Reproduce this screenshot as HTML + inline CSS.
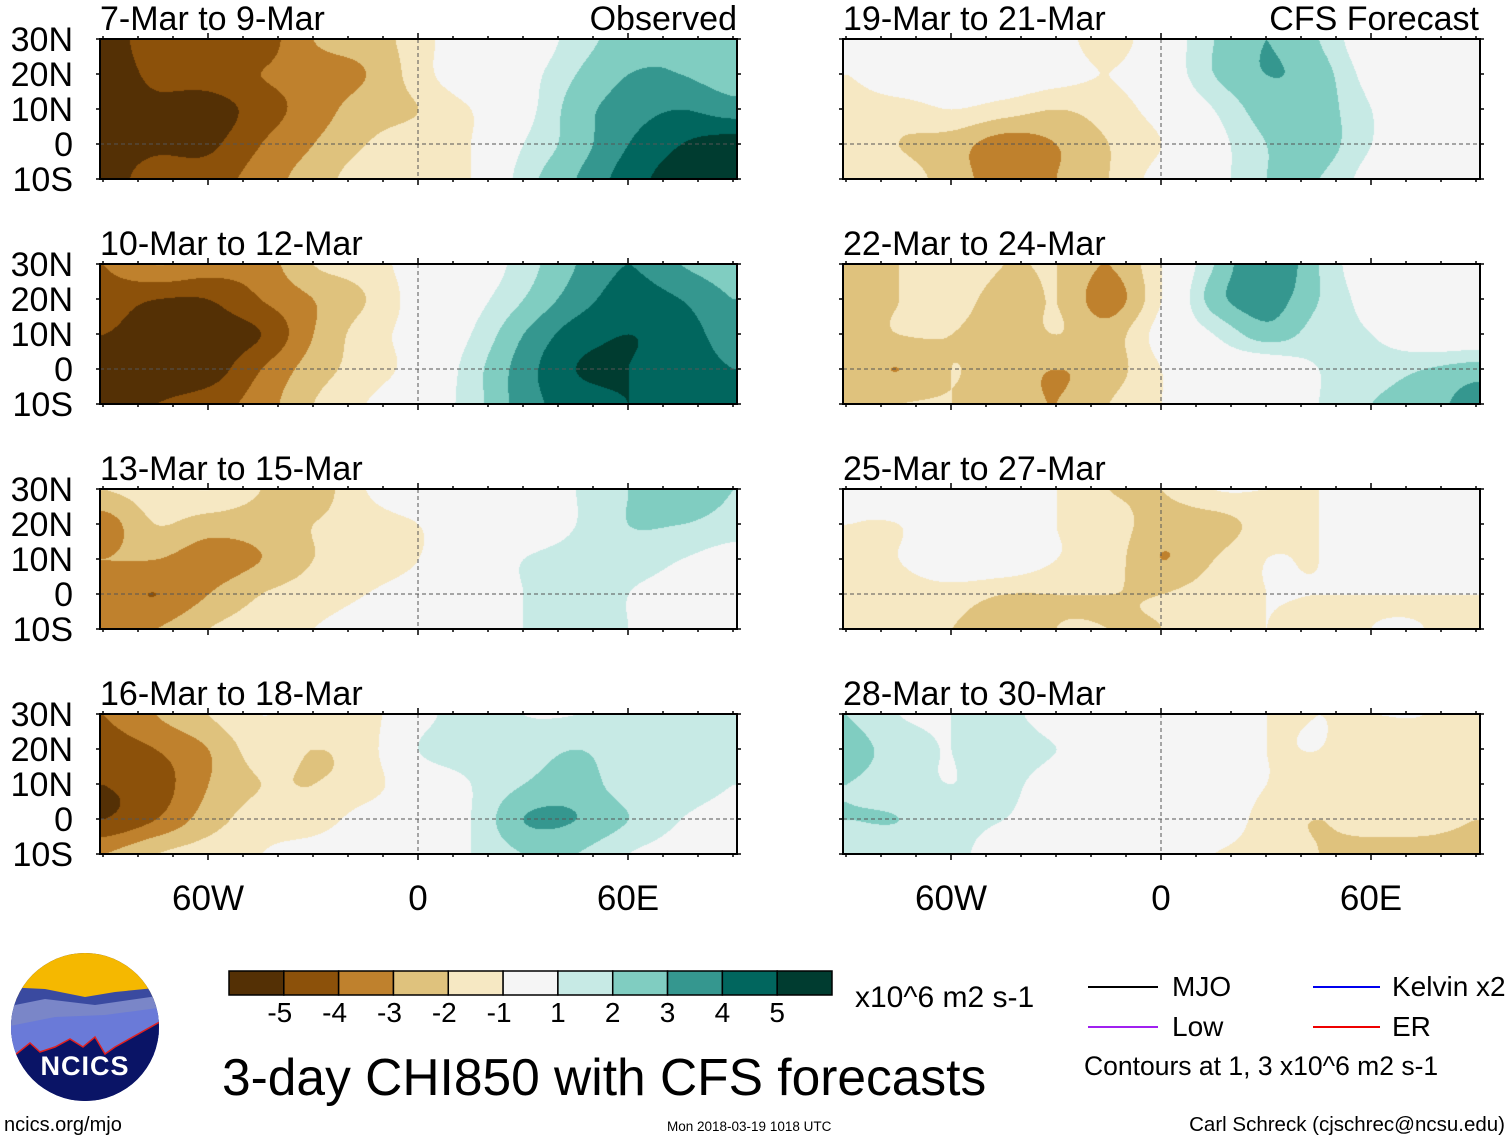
<!DOCTYPE html>
<html><head><meta charset="utf-8"><style>
body{margin:0;background:#fff;width:1510px;height:1142px;overflow:hidden;position:relative;font-family:"Liberation Sans",sans-serif}
.t{position:absolute;white-space:nowrap;color:#000;line-height:1}
canvas{position:absolute}
</style></head><body>
<svg id="frame" width="1510" height="1142" style="position:absolute;left:0;top:0;z-index:2" xmlns="http://www.w3.org/2000/svg"></svg>

<div id="texts"></div>

<div class="t" style="left:855px;top:983px;font-size:30px">x10^6 m2 s-1</div>
<div class="t" style="left:222px;top:1052px;font-size:51.5px">3-day CHI850 with CFS forecasts</div>
<div class="t" style="left:1172px;top:973px;font-size:28px">MJO</div>
<div class="t" style="left:1392px;top:973px;font-size:28px">Kelvin x2</div>
<div class="t" style="left:1172px;top:1013px;font-size:28px">Low</div>
<div class="t" style="left:1392px;top:1013px;font-size:28px">ER</div>
<div class="t" style="left:1084px;top:1053px;font-size:26.5px">Contours at 1, 3 x10^6 m2 s-1</div>
<div class="t" style="left:4px;top:1115px;font-size:20px">ncics.org/mjo</div>
<div class="t" style="left:667px;top:1120px;font-size:13.5px">Mon 2018-03-19 1018 UTC</div>
<div class="t" style="right:5px;top:1115px;font-size:20.5px">Carl Schreck (cjschrec@ncsu.edu)</div>

<svg width="160" height="160" style="position:absolute;left:5px;top:947px" viewBox="0 0 160 160">
<defs><clipPath id="cc"><circle cx="80" cy="80" r="74"/></clipPath></defs>
<g clip-path="url(#cc)">
<rect x="0" y="0" width="160" height="160" fill="#0a1466"/>
<rect x="0" y="0" width="160" height="55" fill="#f5b800"/>
<path d="M0 40 L40 42 L80 50 L110 45 L160 40 L160 110 L0 110Z" fill="#3a4aa0"/>
<path d="M0 60 L40 52 L90 58 L160 48 L160 110 L0 110Z" fill="#7a86c8"/>
<path d="M0 80 L50 70 L100 68 L160 60 L160 110 L0 110Z" fill="#6a7ad8"/>
<path d="M10 108 L25 96 L35 105 L50 100 L65 92 L78 100 L90 90 L100 107 L110 100 L160 72 L160 160 L0 160Z" fill="#0a1466" stroke="#e02020" stroke-width="1.5"/>
</g>
<text x="80" y="128" fill="#fff" font-family="Liberation Sans,sans-serif" font-weight="bold" font-size="27" text-anchor="middle" letter-spacing="1">NCICS</text>
</svg>

<script>
// ---- data ----
const lonGrid = [-90,-75,-60,-45,-30,-15,0,15,30,45,60,75,90];
const latGrid = [30,20,10,0,-10];
const latTickLabels = ["30N","20N","10N","0","10S"];
const lonTickLabels = ["60W","0","60E"];
const lonTickValues = [-60,0,60];
const levelLabels = ["-5","-4","-3","-2","-1","1","2","3","4","5"];
const levelValues = [-5,-4,-3,-2,-1,1,2,3,4,5];
const panelTitles = ["7-Mar to 9-Mar","10-Mar to 12-Mar","13-Mar to 15-Mar","16-Mar to 18-Mar","19-Mar to 21-Mar","22-Mar to 24-Mar","25-Mar to 27-Mar","28-Mar to 30-Mar"];
const fieldP1 = [
[-5.5,-4.5,-4.5,-4.5,-3,-2.5,-1.5,0,0,1.5,2.5,3,2.5],
[-5.5,-4.8,-4.5,-4,-3.5,-3,-1.5,0,0.5,2,3,3,2.5],
[-5.5,-5.2,-5.5,-4.5,-3.5,-2.5,-2,-1,0.5,2.5,3.5,4,3.5],
[-5.5,-5.2,-5.2,-4,-3,-2,-1.5,-1,1,2.5,4,5,5.5],
[-5.5,-4.5,-4.5,-3.5,-2.5,-1.5,-1.5,-1,1.5,3,4.5,5.5,5.5]];
const fieldP2 = [
[-4,-3,-3.5,-3.5,-2,-1.5,-0.5,0,1.5,3,4,3,2.5],
[-4.5,-5,-5,-4,-3,-2,-0.5,0.5,2,3.5,4.5,4,3],
[-5,-5.5,-5.5,-5,-3,-1.5,-0.5,1,3,4.5,5,4.5,3.5],
[-5.5,-5.5,-5.5,-4,-2.5,-1.5,-0.5,1.5,3.5,5,5,4.5,4],
[-5,-5,-4.5,-3.5,-2,-1,0,1.5,3.5,4.5,5,4.5,4]];
const fieldP3 = [
[-2,-1.5,-1,-2,-2.5,-1,0,0,0,1,2,3,2],
[-3.5,-2,-2.5,-2.5,-2,-1.5,-1,0,0,1,2,2,1.5],
[-3,-3,-3.5,-3,-2,-1.5,-1,0,1,1.5,1.5,1,0.5],
[-3.5,-4,-3,-2,-1.5,-1,-0.5,0,1,2,1,0.5,0],
[-3,-3,-2,-1.5,-1,-0.5,0,0,1,1.5,1,0,0]];
const fieldP4 = [
[-4,-3,-2,-1,-1.5,-1.5,0.5,1.5,1,1,1.5,1.5,1],
[-4.5,-4,-3,-1.5,-2,-1.5,1,1.5,1.5,2,1.5,1.5,1],
[-5,-4.5,-3,-2,-2,-1.5,0,1,2,2.5,1.5,1.5,1],
[-5,-4,-2.5,-1.5,-1.5,-0.5,0,1,3,3,2,1,0.5],
[-3,-2,-1.5,-1,-0.5,0,0,1,2,2,1,0.5,0]];
const fieldP5 = [
[0,0,0,0,-0.5,-1.5,0,2,3,2,0,0,0],
[-1,0,0,0,-0.5,-1,0,2,3,2.5,0.5,0,0],
[-1.5,-1.5,-1,-1.5,-2,-1.5,-0.5,1,2.5,2.5,1,0,0],
[-1.5,-2,-2.5,-3.5,-3,-2,-1,0.5,2,2.5,1,0,0],
[-1.5,-1.5,-2.5,-3.5,-3,-2,-0.5,0.5,2,2,0.5,0,0]];
const fieldP6 = [
[-2.5,-2,-1,-2,-2,-3,-1,2,4,2,0,0,0],
[-2.5,-2,-1.5,-2.5,-2,-3.5,-1,2.5,3.5,2,0.5,0,0],
[-2.5,-2,-2,-2.5,-2,-2.5,-0.5,1,2.5,1.5,1,0,0],
[-2.5,-3,-2,-2.5,-3,-2.5,-1,0,0,1,1.5,2,2.5],
[-2.5,-2,-2,-2.5,-3,-2,-1,0,0,1,2,2.5,3.5]];
const fieldP7 = [
[-1,0,0,0,-1,-2,-2,-1,-1,-1,-0.5,0,0],
[-1,-1,0,0,-1,-1.5,-2.5,-2.5,-1.5,-1,-0.5,0,0],
[-1.5,-1,0,0,-1,-1.5,-3,-2,-1,-1,0,0,0],
[-1.5,-1.5,-1.5,-2,-2,-2,-2,-1.5,-1,-1,-1,-1,-1],
[-2,-1.5,-2,-2.5,-2,-2,-2,-1.5,-1,-1.5,-1,-1,-1.5]];
const fieldP8 = [
[2,1,1,1.5,0,0,0,0,-1,-1,-1,-1,-1.5],
[2.5,1.5,1,2,1,0,0,0,-1,-1,-1.5,-1.5,-2],
[2,1.5,1,1.5,0,0,0,0,-1,-1.5,-1.5,-1,-1.5],
[2,2,1.5,1,0,0,0,0,-1.5,-2,-1.5,-1.5,-2],
[1.5,1.5,1.5,0,0,0,0,-1,-1.5,-2,-2.5,-2.5,-2.5]];
const fields = [fieldP1,fieldP2,fieldP3,fieldP4,fieldP5,fieldP6,fieldP7,fieldP8];

// ---- styling ----
const colors = ["#543005","#8c510a","#bf812d","#dfc27d","#f6e8c3","#f5f5f5","#c7eae5","#80cdc1","#35978f","#01665e","#003c30"];
const rgb = colors.map(c=>[parseInt(c.substr(1,2),16),parseInt(c.substr(3,2),16),parseInt(c.substr(5,2),16)]);
const colX=[100,843], zeroX=[418,1161], rowY=[39,264,489,714], PW=637, PH=140, PXD=3.5;
function classOf(v){let i=0;while(i<levelValues.length&&v>=levelValues[i])i++;return i;}
function xOf(p,lon){return zeroX[p]+lon*PXD;}
function yOf(r,lat){return rowY[r]+(30-lat)*PH/40;}
function cr(p0,p1,p2,p3,t){return 0.5*((2*p1)+(-p0+p2)*t+(2*p0-5*p1+4*p2-p3)*t*t+(-p0+3*p1-3*p2+p3)*t*t*t);}
function sample(f,lon,lat){
  const nx=lonGrid.length, ny=latGrid.length;
  let fx=(lon-lonGrid[0])/15, fy=(latGrid[0]-lat)/10;
  fx=Math.max(0,Math.min(nx-1.0001,fx)); fy=Math.max(0,Math.min(ny-1.0001,fy));
  const i=Math.floor(fx), j=Math.floor(fy), a=fx-i, b=fy-j;
  const g=(jj,ii)=>f[Math.max(0,Math.min(ny-1,jj))][Math.max(0,Math.min(nx-1,ii))];
  const rows=[];
  for(let dj=-1;dj<=2;dj++) rows.push(cr(g(j+dj,i-1),g(j+dj,i),g(j+dj,i+1),g(j+dj,i+2),a));
  return cr(rows[0],rows[1],rows[2],rows[3],b);
}
const svg=document.getElementById('frame'), NS="http://www.w3.org/2000/svg";
const texts=document.getElementById('texts');
function addText(txt,l,t,fs,name,right){
  const d=document.createElement('div');d.className='t';d.textContent=txt;
  
  
  d.style.top=t+'px';d.style.fontSize=fs+'px';
  if(right!==undefined)d.style.right=right+'px';else d.style.left=l+'px';
  texts.appendChild(d);
}
function line(x1,y1,x2,y2,st,w,dash,name){
  const l=document.createElementNS(NS,'line');
  l.setAttribute('x1',x1);l.setAttribute('y1',y1);l.setAttribute('x2',x2);l.setAttribute('y2',y2);
  l.setAttribute('stroke',st);l.setAttribute('stroke-width',w);if(dash)l.setAttribute('stroke-dasharray',dash);
  
  
  svg.appendChild(l);
}

for(let k=0;k<8;k++){
  const p=k<4?0:1, r=k%4, x0=colX[p], y0=rowY[r];
  const cv=document.createElement('canvas');cv.width=PW;cv.height=PH;
  cv.style.left=x0+'px';cv.style.top=y0+'px';
  
  
  document.body.appendChild(cv);
  const ctx=cv.getContext('2d'), img=ctx.createImageData(PW,PH), f=fields[k];
  for(let y=0;y<PH;y++){const lat=30-y*40/PH;
    for(let x=0;x<PW;x++){const lon=(x0+x-zeroX[p])/PXD;
      const c=rgb[classOf(sample(f,lon,lat))], o=(y*PW+x)*4;
      img.data[o]=c[0];img.data[o+1]=c[1];img.data[o+2]=c[2];img.data[o+3]=255;}}
  ctx.putImageData(img,0,0);
  line(x0,yOf(r,0),x0+PW,yOf(r,0),'#555',1,'4,3','equator-line');
  line(xOf(p,0),y0,xOf(p,0),y0+PH,'#555',1,'4,3','prime-meridian-line');
  const rc=document.createElementNS(NS,'rect');
  rc.setAttribute('x',x0);rc.setAttribute('y',y0);rc.setAttribute('width',PW);rc.setAttribute('height',PH);
  rc.setAttribute('fill','none');rc.setAttribute('stroke','#000');rc.setAttribute('stroke-width',2);
  
  
  svg.appendChild(rc);
  for(let lon=-90;lon<=90;lon+=10){const xx=xOf(p,lon);if(xx<x0||xx>x0+PW)continue;
    const big=lonTickValues.indexOf(lon)>=0?6:3;
    line(xx,y0-big,xx,y0,'#000',1.5,null,'lon-tick');line(xx,y0+PH,xx,y0+PH+big,'#000',1.5,null,'lon-tick');}
  for(let lat=30;lat>=-10;lat-=10){const yy=yOf(r,lat);
    line(x0-4,yy,x0,yy,'#000',1.5,null,'lat-tick');line(x0+PW,yy,x0+PW+4,yy,'#000',1.5,null,'lat-tick');}
  addText(panelTitles[k],x0,y0-37,34,'panel-title');
  if(k===0)addText("Observed",0,y0-37,34,'observed-label',1510-737);
  if(k===4)addText("CFS Forecast",0,y0-37,34,'forecast-label',1510-1479);
  if(p===0) latGrid.forEach((lat,i)=>addText(latTickLabels[i],0,yOf(r,lat)-16,34,'lat-label',1510-73));
}
for(let p=0;p<2;p++) lonTickValues.forEach((lon,i)=>{
  const d=document.createElement('div');d.className='t';d.textContent=lonTickLabels[i];
  
  
  d.style.left=(xOf(p,lon)-60)+'px';d.style.width='120px';d.style.textAlign='center';d.style.top='881px';d.style.fontSize='35px';
  texts.appendChild(d);});

// colorbar
const cbX=229, cbY=971, cbW=603, cbH=24, bw=cbW/colors.length;
colors.forEach((c,i)=>{const rc=document.createElementNS(NS,'rect');
  rc.setAttribute('x',cbX+i*bw);rc.setAttribute('y',cbY);rc.setAttribute('width',bw);rc.setAttribute('height',cbH);
  rc.setAttribute('fill',c);rc.setAttribute('stroke','#000');rc.setAttribute('stroke-width',1.5);
  
  
  svg.appendChild(rc);});
levelLabels.forEach((s,i)=>{const d=document.createElement('div');d.className='t';d.textContent=s;
  
  
  d.style.left=(cbX+(i+1)*bw-30-(s[0]=='-'?4:0))+'px';d.style.width='60px';d.style.textAlign='center';d.style.top='999px';d.style.fontSize='28px';
  texts.appendChild(d);});
line(1088,987,1158,987,'#000',2,null,'legend-mjo-line');
line(1313,987,1380,987,'#0000ee',2,null,'legend-kelvin-line');
line(1088,1027,1158,1027,'#a020f0',2,null,'legend-low-line');
line(1313,1027,1380,1027,'#ee0000',2,null,'legend-er-line');
</script>
</body></html>
